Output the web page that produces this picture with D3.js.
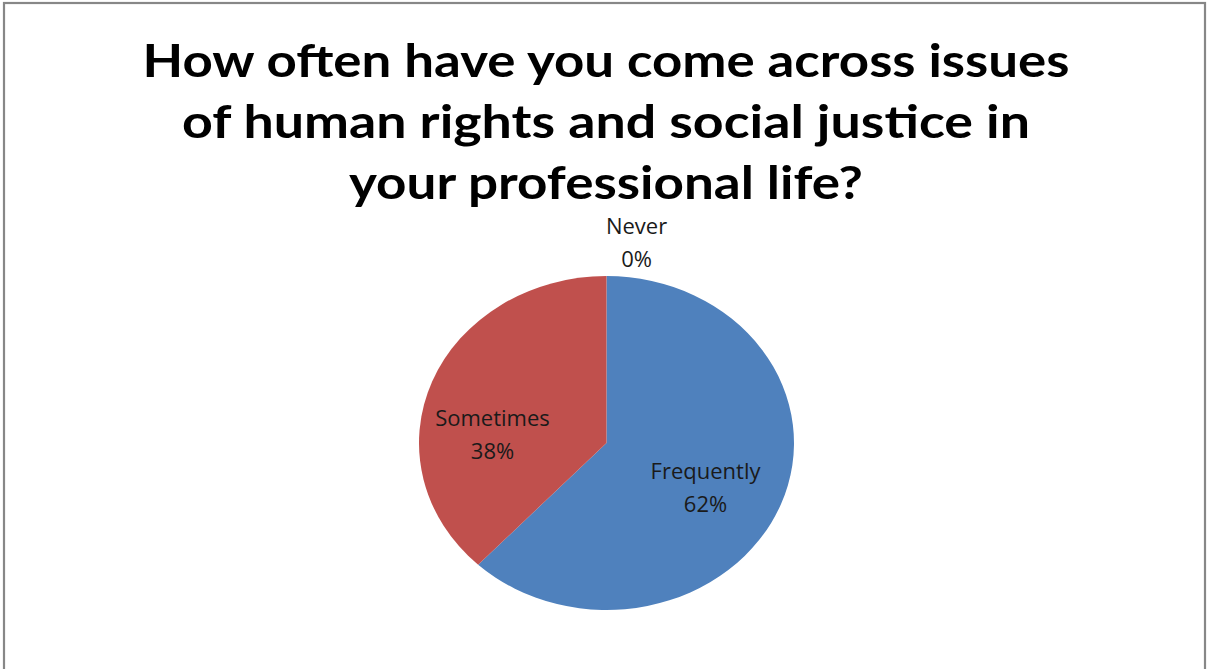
<!DOCTYPE html>
<html>
<head>
<meta charset="utf-8">
<script src="https://cdn.jsdelivr.net/npm/d3@7"></script>
<style>
  html, body { margin: 0; padding: 0; background: #fff; }
  svg { display: block; }
</style>
</head>
<body>
<svg id="chart" width="1207" height="669"></svg>
<script>
// Survey answers and their shares (percent)
const categories = ["Frequently", "Sometimes", "Never"];
const values = [62, 38, 0];
const colors = ["#4F81BD", "#C0504D", "#9BBB59"];
const titleLines = [
  "How often have you come across issues",
  "of human rights and social justice in",
  "your professional life?"
];

const W = 1207, H = 669;
const svg = d3.select("#chart");

// Chart frame
svg.append("rect")
  .attr("x", 4).attr("y", 3)
  .attr("width", 1201).attr("height", 700)
  .attr("fill", "#fff")
  .attr("stroke", "#878787")
  .attr("stroke-width", 2.2);

// Title, each line stretched to its measured width
const titleSpec = [
  { y: 77, w: 927 },
  { y: 138, w: 848 },
  { y: 199, w: 514 }
];
const title = svg.append("g").attr("font-family", "Lato, 'Open Sans', sans-serif")
  .attr("font-weight", "bold").attr("font-size", 45).attr("fill", "#000");
titleLines.forEach((t, i) => {
  title.append("text")
    .attr("x", 606).attr("y", titleSpec[i].y)
    .attr("text-anchor", "middle")
    .attr("textLength", titleSpec[i].w)
    .attr("lengthAdjust", "spacingAndGlyphs")
    .text(t);
});

// Pie (slightly elliptical, as drawn in the original chart)
const cx = 606.5, cy = 443, rx = 187.5, ry = 167;
const pie = d3.pie().sort(null).value(d => d.v)
  .startAngle(0).endAngle(2 * Math.PI);
const data = categories.map((c, i) => ({ c, v: values[i], color: colors[i] }));
const arcs = pie(data);
const arc = d3.arc().innerRadius(0).outerRadius(ry);

const pieG = svg.append("g")
  .attr("transform", `translate(${cx},${cy}) scale(${rx / ry},1)`);
pieG.selectAll("path")
  .data(arcs.filter(d => d.data.v > 0))
  .join("path")
  .attr("d", arc)
  .attr("fill", d => d.data.color);

// Data labels (category + percentage), offsets from the pie centre
const labelPos = {
  "Frequently": { dx: 99, dy: 36 },
  "Sometimes": { dx: -114, dy: -17 },
  "Never": { dx: 30, dy: -209 }
};
const lbl = svg.append("g")
  .attr("font-family", "'Open Sans', 'Noto Sans', sans-serif")
  .attr("font-size", 22).attr("fill", "#1a1a1a");
arcs.forEach(d => {
  const p = labelPos[d.data.c];
  const t = lbl.append("text")
    .attr("text-anchor", "middle")
    .attr("transform", `translate(${cx + p.dx},${cy + p.dy})`);
  t.append("tspan").attr("x", 0).attr("dy", 0).text(d.data.c);
  t.append("tspan").attr("x", 0).attr("dy", 33).text(d3.format(".0f")(d.data.v) + "%");
});
</script>
</body>
</html>
